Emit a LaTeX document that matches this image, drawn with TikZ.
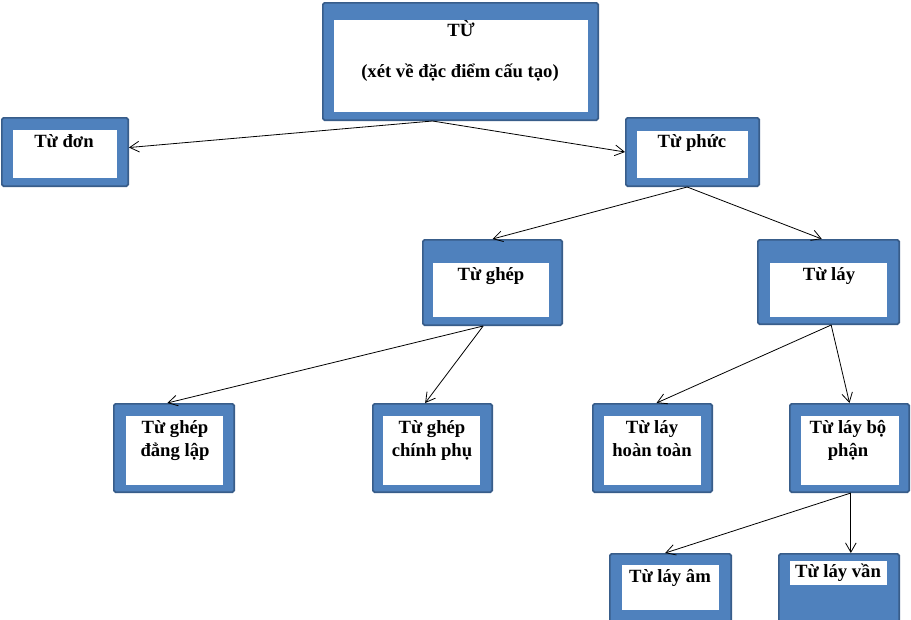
\documentclass[tikz,border=0pt]{standalone}
\usepackage{fontspec}
\setmainfont{Liberation Serif}
\usetikzlibrary{arrows.meta}
\definecolor{boxblue}{HTML}{4F81BD}
\definecolor{boxedge}{HTML}{385D8A}
\tikzset{
  outerbox/.style={draw=boxedge, fill=boxblue, line width=1.3pt, rounded corners=1.2pt, inner sep=0pt},
  innerbox/.style={fill=white, draw=none, inner sep=0pt},
  lbl/.style={anchor=base, inner sep=0pt, font=\fontsize{14}{16}\selectfont\bfseries},
  arr/.style={draw=black, line width=0.6pt, -{Straight Barb[length=7pt,width=8pt,line width=0.6pt]}}
}
\newcommand\mkbox[9]{%
  \node[outerbox, minimum width={(#4-#2)*0.75pt-1.3pt}, minimum height={(#5-#3)*0.75pt-1.3pt}] (#1) at ({(#2+#4)/2},{(#3+#5)/2}) {};
  \node[innerbox, minimum width={(#8-#6)*0.75pt}, minimum height={(#9-#7)*0.75pt}] (#1i) at ({(#6+#8)/2},{(#7+#9)/2}) {};
}
\begin{document}
\begin{tikzpicture}[x=0.75pt, y=-0.75pt]
\useasboundingbox (0,0) rectangle (911,619);
\clip (0,0) rectangle (911,619);
\fill[white] (0,0) rectangle (911,619);
% boxes
\mkbox{tu}{322}{2}{599}{121}{334}{20}{588}{112}
\mkbox{don}{1}{117}{129}{187}{13}{130}{117}{178}
\mkbox{phuc}{625}{117}{760}{187}{637}{131}{748}{178}
\mkbox{ghep}{422}{239}{563}{326}{433}{263}{549}{317}
\mkbox{lay}{757}{239}{900}{325}{770}{263}{887}{317}
\mkbox{dang}{113}{403}{235}{493}{126}{416}{223}{485}
\mkbox{chinh}{372}{403}{493}{493}{383}{416}{480}{485}
\mkbox{hoan}{592}{403}{713}{493}{604}{416}{701}{485}
\mkbox{bo}{789}{403}{910}{493}{801}{416}{899}{485}
\mkbox{am}{609}{553}{732}{630}{622}{565}{719}{610}
\mkbox{van}{778}{553}{900}{630}{790}{561}{887}{585}
% labels
\node[lbl] (tuA) at (461,36) {TỪ};
\node[lbl] (tuB) at (460,77) {(xét về đặc điểm cấu tạo)};
\node[lbl] (donT) at (64,147) {Từ đơn};
\node[lbl] (phucT) at (692,147) {Từ phức};
\node[lbl] (ghepT) at (491,280) {Từ ghép};
\node[lbl] (layT) at (829,280) {Từ láy};
\node[lbl] (dangA) at (175,433) {Từ ghép};
\node[lbl] (dangB) at (175,456) {đẳng lập};
\node[lbl] (chinhA) at (432,433) {Từ ghép};
\node[lbl] (chinhB) at (432,456) {chính phụ};
\node[lbl] (hoanA) at (652,433) {Từ láy};
\node[lbl] (hoanB) at (652,456) {hoàn toàn};
\node[lbl] (boA) at (848,433) {Từ láy bộ};
\node[lbl] (boB) at (848,456) {phận};
\node[lbl] (amT) at (670,582) {Từ láy âm};
\node[lbl] (vanT) at (838,577) {Từ láy vần};
% connectors
\draw[arr] ([xshift=-21pt]tu.south) -- (don.4);
\draw[arr] ([xshift=-21pt]tu.south) -- (phuc.west);
\draw[arr] ([xshift=-4pt]phuc.south) -- (ghep.north);
\draw[arr] ([xshift=-4pt]phuc.south) -- ([xshift=-5pt]lay.north);
\draw[arr] ([xshift=-7pt]ghep.south) -- ([xshift=-5pt]dang.north);
\draw[arr] ([xshift=-7pt]ghep.south) -- ([xshift=-5.5pt]chinh.north);
\draw[arr] ([xshift=2pt]lay.south) -- ([xshift=3pt]hoan.north);
\draw[arr] ([xshift=2pt]lay.south) -- (bo.north);
\draw[arr] ([xshift=1pt]bo.south) -- ([xshift=-4pt]am.north);
\draw[arr] ([xshift=1pt]bo.south) -- ([xshift=1pt]bo.south |- van.north);
\end{tikzpicture}
\end{document}
